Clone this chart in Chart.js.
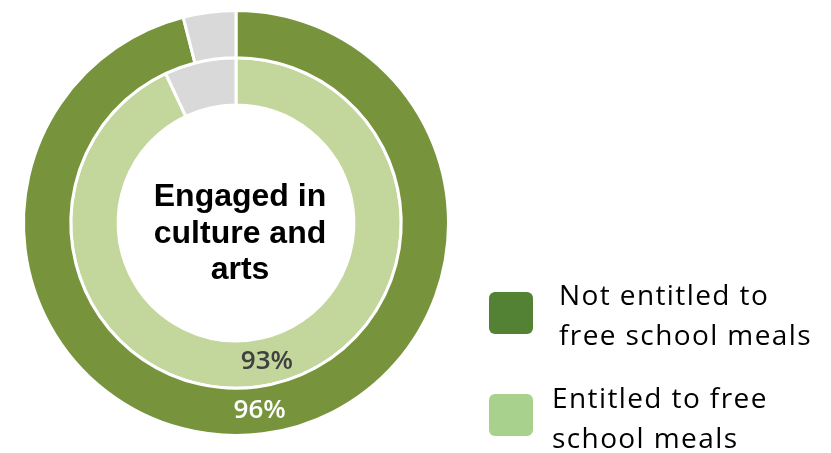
<!DOCTYPE html>
<html>
<head>
<meta charset="utf-8">
<script src="https://cdn.jsdelivr.net/npm/chart.js@4/dist/chart.umd.min.js"></script>
<style>
    html, body { margin: 0; padding: 0; background: #ffffff; }
    #wrap { position: relative; width: 831px; height: 453px; }
    #chart { position: absolute; left: 0; top: 0; }
    .legend-item { position: absolute; font-family: "Open Sans", sans-serif; font-size: 28px; line-height: 40px; letter-spacing: 1.4px; color: #000000; white-space: nowrap; }
    .legend-box { position: absolute; width: 44px; height: 42px; border-radius: 6px; }
</style>
</head>
<body>
<div id="wrap">
    <canvas id="chart" width="831" height="453"></canvas>
    <div class="legend-box" style="left:489px; top:292px; background:#548235;"></div>
    <div class="legend-item" style="left:559px; top:274px;">Not entitled to<br>free school meals</div>
    <div class="legend-box" style="left:489px; top:394px; background:#A9D18E;"></div>
    <div class="legend-item" style="left:552px; top:377px;">Entitled to free<br>school meals</div>
</div>
<script>
    'use strict';

    // Share engaged in culture and arts, by free school meal entitlement
    const groups = ['Not entitled to free school meals', 'Entitled to free school meals'];
    const engaged = [96, 93];
    const notEngaged = [4, 7];
    const centreLines = ['Engaged in', 'culture and', 'arts'];

    const ringColors = ['#77933C', '#C3D69B'];
    const restColor = '#D9D9D9';
    const labelColors = ['#FFFFFF', '#404040'];

    // Value label drawn at the middle of the engaged segment of each ring
    const segmentLabels = {
        id: 'segmentLabels',
        afterDatasetsDraw(chart) {
            const ctx = chart.ctx;
            ctx.save();
            ctx.font = '600 26px "Open Sans", sans-serif';
            ctx.textAlign = 'center';
            ctx.textBaseline = 'middle';
            chart.data.datasets.forEach((ds, i) => {
                const arc = chart.getDatasetMeta(i).data[0];
                const p = arc.getCenterPoint();
                ctx.fillStyle = labelColors[i];
                ctx.fillText(ds.data[0] + '%', p.x, p.y);
            });
            ctx.restore();
        }
    };

    // Title in the hole of the doughnut
    const centreText = {
        id: 'centreText',
        afterDraw(chart) {
            const ctx = chart.ctx;
            const arc = chart.getDatasetMeta(0).data[0];
            ctx.save();
            ctx.font = 'bold 32px "Liberation Sans", Arial, sans-serif';
            ctx.fillStyle = '#000000';
            ctx.textAlign = 'center';
            ctx.textBaseline = 'alphabetic';
            centreLines.forEach((line, i) => {
                ctx.fillText(line, arc.x + 4, arc.y - 17 + i * 36.5);
            });
            ctx.restore();
        }
    };

    new Chart(document.getElementById('chart'), {
        type: 'doughnut',
        data: {
            labels: ['Engaged', 'Not engaged'],
            datasets: groups.map((g, i) => ({
                label: g,
                data: [engaged[i], notEngaged[i]],
                backgroundColor: [ringColors[i], restColor],
                borderColor: '#ffffff',
                borderWidth: 3
            }))
        },
        options: {
            responsive: false,
            animation: false,
            cutout: '55.5%',
            layout: {
                padding: { left: 22, right: 381, top: 9, bottom: 16 }
            },
            plugins: {
                legend: { display: false },
                tooltip: { enabled: false }
            }
        },
        plugins: [segmentLabels, centreText]
    });
</script>
</body>
</html>
